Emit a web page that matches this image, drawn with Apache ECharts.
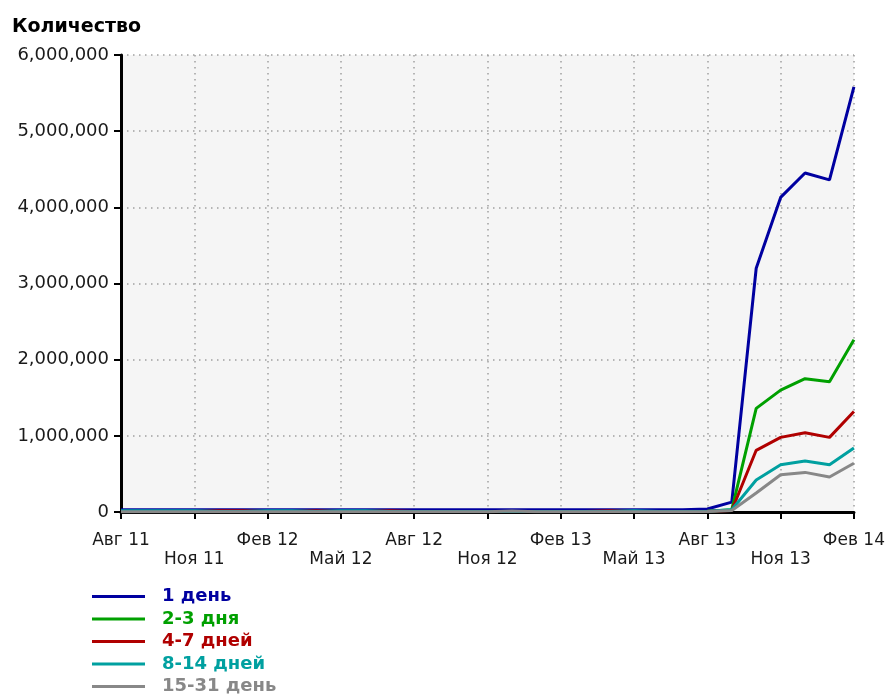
<!DOCTYPE html>
<html>
<head>
<meta charset="utf-8">
<script src="https://cdn.jsdelivr.net/npm/echarts@6/dist/echarts.min.js"></script>
<style>
html,body{margin:0;padding:0;background:#fff;}
#c{width:888px;height:696px;}
</style>
</head>
<body>
<div id="c"></div>
<script>
const months = ['Авг 11','Сен 11','Окт 11','Ноя 11','Дек 11','Янв 12','Фев 12','Мар 12','Апр 12','Май 12','Июн 12','Июл 12',
  'Авг 12','Сен 12','Окт 12','Ноя 12','Дек 12','Янв 13','Фев 13','Мар 13','Апр 13','Май 13','Июн 13','Июл 13',
  'Авг 13','Сен 13','Окт 13','Ноя 13','Дек 13','Янв 14','Фев 14'];
const seriesNames = ['1 день','2-3 дня','4-7 дней','8-14 дней','15-31 день'];
const seriesColors = ['#0000a0','#00a000','#b00000','#00a0a0','#888888'];
const day1 = [30000,30000,30000,30000,30000,30000,30000,30000,30000,30000,30000,30000,
  30000,30000,30000,30000,30000,30000,30000,30000,30000,30000,30000,30000,
  40000,130000,3200000,4130000,4450000,4360000,5580000];
const days2_3 = [5000,5000,5000,5000,5000,5000,5000,5000,5000,5000,5000,5000,
  5000,5000,5000,5000,5000,5000,5000,5000,5000,5000,5000,5000,
  10000,30000,1360000,1600000,1750000,1710000,2260000];
const days4_7 = [5000,5000,5000,5000,15000,15000,5000,5000,15000,5000,5000,15000,
  5000,5000,5000,5000,5000,5000,5000,5000,15000,5000,5000,5000,
  10000,20000,810000,980000,1040000,980000,1320000];
const days8_14 = [15000,15000,15000,15000,5000,5000,15000,15000,5000,15000,15000,5000,
  5000,5000,5000,5000,5000,5000,5000,5000,5000,15000,5000,5000,
  10000,30000,420000,620000,670000,620000,840000];
const days15_31 = [3000,3000,3000,3000,3000,3000,3000,3000,3000,3000,3000,3000,
  3000,3000,3000,3000,12000,3000,3000,3000,3000,3000,3000,3000,
  8000,20000,250000,490000,520000,460000,640000];
const yTicks = { min: 0, max: 6000000, interval: 1000000 };
const seriesData = [day1, days2_3, days4_7, days8_14, days15_31];

const chart = echarts.init(document.getElementById('c'), null, {renderer: 'canvas'});
const dotted = { color: '#a0a0a0', width: 1.5, type: [1.5, 4.5] };
chart.setOption({
  animation: false,
  backgroundColor: '#ffffff',
  title: {
    text: 'Количество', left: 7, top: 13,
    textStyle: { fontFamily: 'DejaVu Sans', fontWeight: 'bold', fontSize: 19, color: '#000' }
  },
  grid: { left: 121, right: 32, top: 55, bottom: 184, show: true, backgroundColor: '#f5f5f5', borderWidth: 0 },
  legend: {
    orient: 'vertical', left: 87, top: 582, height: 114, icon: 'rect', itemWidth: 53, itemHeight: 3, itemGap: 3.5,
    textStyle: { fontFamily: 'DejaVu Sans', fontWeight: 'bold', fontSize: 18, lineHeight: 19, padding: [0, 0, 0, 12] },
    data: seriesNames.map((n, i) => ({ name: n, textStyle: { color: seriesColors[i] } }))
  },
  xAxis: {
    type: 'category', boundaryGap: false, data: months,
    axisLine: { lineStyle: { color: '#000', width: 3 } },
    axisTick: { show: true, interval: 2, length: 7, lineStyle: { color: '#000', width: 2 } },
    axisLabel: {
      interval: 2, fontFamily: 'DejaVu Sans', fontSize: 17, color: '#1a1a1a', lineHeight: 19, margin: 19,
      formatter: (v, i) => (Math.round(i / 3) % 2 === 1 ? '\n' + v : v)
    },
    splitLine: { show: true, interval: 2, lineStyle: dotted }
  },
  yAxis: {
    type: 'value', min: yTicks.min, max: yTicks.max, interval: yTicks.interval,
    axisLine: { show: true, lineStyle: { color: '#000', width: 3 } },
    axisTick: { show: true, length: 7, lineStyle: { color: '#000', width: 2 } },
    axisLabel: {
      fontFamily: 'DejaVu Sans', fontSize: 18, color: '#1a1a1a', margin: 12, padding: [3, 0, 0, 0],
      formatter: v => v.toLocaleString('en-US')
    },
    splitLine: { show: true, lineStyle: dotted }
  },
  series: seriesNames.map((n, i) => ({
    name: n, type: 'line', data: seriesData[i], symbol: 'none',
    lineStyle: { color: seriesColors[i], width: 3 }, itemStyle: { color: seriesColors[i] }
  }))
});
</script>
</body>
</html>
